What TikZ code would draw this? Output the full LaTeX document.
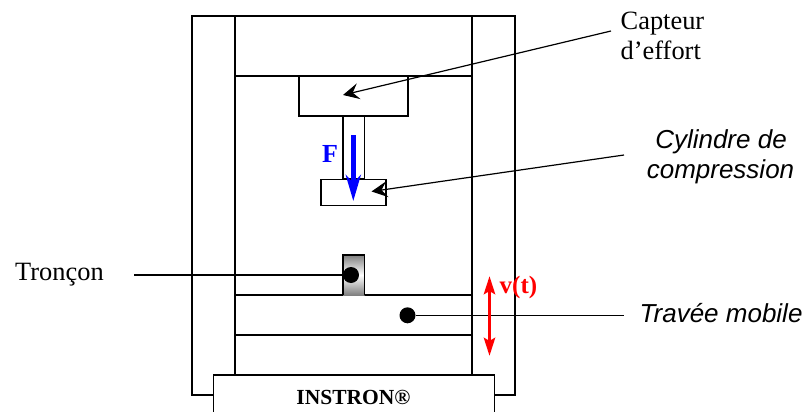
\documentclass[tikz,border=0pt]{standalone}
\usepackage{fontspec}
\setmainfont{Liberation Serif}
\newfontfamily\arialf{Liberation Sans}
\usetikzlibrary{arrows.meta}
\definecolor{pblue}{RGB}{0,0,255}
\definecolor{pred}{RGB}{255,0,0}
\tikzset{
  x=1pt,y=-1pt,
  frameline/.style={draw=black,line width=1.5pt},
  box/.style={draw=black,line width=1.5pt,fill=white,inner sep=0pt,outer sep=0pt,anchor=north west},
  leader/.style={draw=black,line width=1.2pt},
  ptr/.style={draw=black,line width=1.2pt,-{Stealth[length=16pt,width=16pt,inset=6pt]}},
  dotnode/.style={circle,fill=black,inner sep=0pt,minimum size=16pt},
  serif/.style={font=\fontsize{26.4}{30}\selectfont,inner sep=0pt,anchor=base west},
  sans/.style={font=\arialf\itshape\fontsize{26}{30}\selectfont,inner sep=0pt,anchor=base},
}
\begin{document}
\begin{tikzpicture}
\useasboundingbox (0,0) rectangle (806,412);
\fill[white] (0,0) rectangle (806,412);
% frame
\draw[frameline] (192,16) rectangle (515,395);
\draw[frameline] (235,16) -- (235,376);
\draw[frameline] (472,16) -- (472,376);
\draw[frameline] (235,76) -- (472,76);
% load cell + stem + cylinder
\node[box,minimum width=109pt,minimum height=40pt] (cell) at (299,76) {};
\node[box,minimum width=21.5pt,minimum height=63pt] (stem) at (343,116) {};
\node[box,minimum width=65pt,minimum height=26pt] (cyl) at (321,179.5) {};
% crosshead
\node[box,fill=none,minimum width=237pt,minimum height=40pt] (trav) at (235,295) {};
% specimen
\shade[top color=gray,bottom color=gray,middle color=white] (343,255) rectangle (364.5,295);
\draw[frameline] (343,295) -- (343,255) -- (364.5,255) -- (364.5,295);
% instron
\node[box,minimum width=281pt,minimum height=45pt] (ins) at (213.5,375) {};
\node[font=\bfseries\fontsize{21.5}{24}\selectfont,inner sep=0pt,anchor=base] (instxt) at (353.5,404) {INSTRON®};
% labels
\node[serif] (capt) at (620.5,29.5) {Capteur};
\node[serif] (capt2) at (620.5,59.5) {d’effort};
\node[sans] (cylt) at (721,148) {Cylindre de};
\node[sans] (cylt2) at (720.5,178) {compression};
\node[serif] (tron) at (15,280) {Tronçon};
\node[sans,anchor=base west] (trvt) at (639.5,322) {Travée mobile};
% dots
\node[dotnode] (d1) at (351,275) {};
\node[dotnode] (d2) at (407.5,315.3) {};
% leaders
\coordinate (l1) at (134,275);
\coordinate (l2) at (623.5,315.3);
\draw[leader] (l1) -- (d1);
\draw[leader] (d2) -- (l2);
\coordinate (a1s) at (611,31);
\coordinate (a1e) at (343,95);
\coordinate (a2s) at (624,155);
\coordinate (a2e) at (371.5,191.5);
\draw[ptr] (a1s) -- (a1e);
\draw[ptr] (a2s) -- (a2e);
% force
\coordinate (fs) at (353.3,135);
\coordinate (fe) at (353.3,201);
\draw[draw=pblue,line width=5pt,-{Stealth[length=26pt,width=15pt,inset=8pt]}] (fs) -- (fe);
\node[text=pblue,font=\bfseries\fontsize{26}{28}\selectfont,inner sep=0pt,anchor=base west] (ft) at (322,162.7) {F};
% velocity
\coordinate (vs) at (489.5,276);
\coordinate (ve) at (489.5,356);
\draw[draw=pred,line width=3.8pt,{Stealth[length=18pt,width=11pt,inset=3pt]}-{Stealth[length=18pt,width=11pt,inset=3pt]}] (vs) -- (ve);
\node[text=pred,font=\bfseries\fontsize{25}{26}\selectfont,inner sep=0pt,anchor=base west] (vt) at (499.5,293) {v(t)};
\end{tikzpicture}
\end{document}
